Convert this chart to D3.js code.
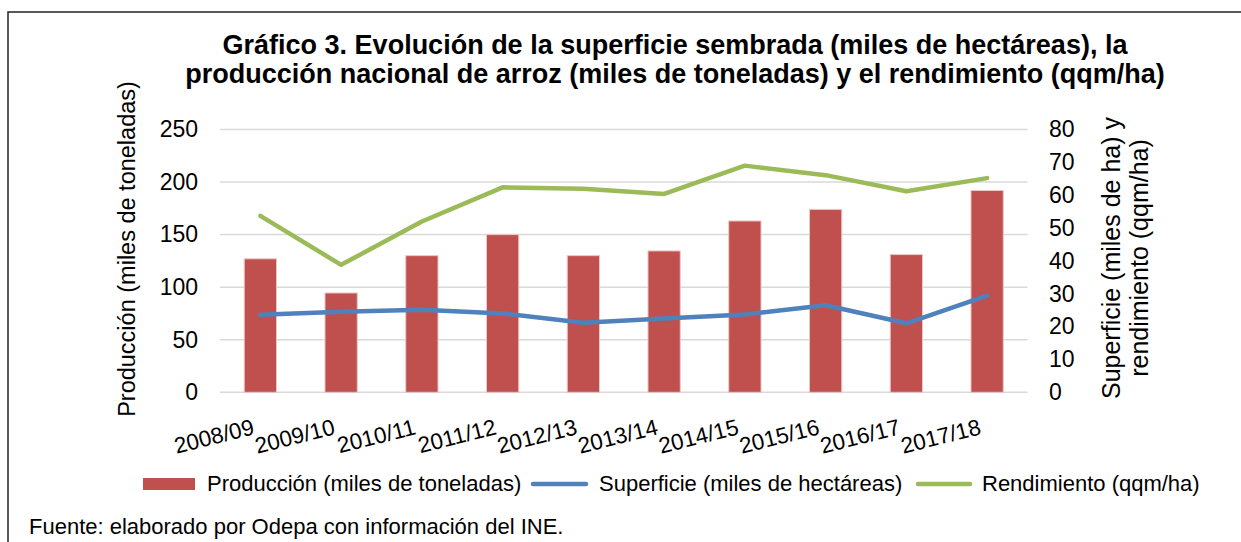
<!DOCTYPE html>
<html>
<head>
<meta charset="utf-8">
<script src="https://cdn.jsdelivr.net/npm/d3@7"></script>
<style>
  body { margin: 0; background: #fff; }
  svg { display: block; font-family: "Liberation Sans", Arial, sans-serif; }
</style>
</head>
<body>
<div id="chart"></div>
<script>
const categories = ["2008/09", "2009/10", "2010/11", "2011/12", "2012/13",
  "2013/14", "2014/15", "2015/16", "2016/17", "2017/18"];
const produccion = [127, 94.5, 130, 150, 130, 134.5, 163, 174, 131, 192];
const superficie = [23.6, 24.5, 25.1, 24.0, 21.2, 22.5, 23.7, 26.5, 21.0, 29.4];
const rendimiento = [53.7, 38.8, 52.0, 62.4, 62.0, 60.4, 69.0, 66.1, 61.2, 65.2];
const leftTicks = [0, 50, 100, 150, 200, 250];
const rightTicks = [0, 10, 20, 30, 40, 50, 60, 70, 80];

const titleLines = [
  "Gráfico 3. Evolución de la superficie sembrada (miles de hectáreas), la",
  "producción nacional de arroz (miles de toneladas) y el rendimiento (qqm/ha)",
];
const leftTitle = "Producción (miles de toneladas)";
const rightTitle = ["Superficie (miles de ha) y", "rendimiento (qqm/ha)"];
const legendNames = ["Producción (miles de toneladas)", "Superficie (miles de hectáreas)", "Rendimiento (qqm/ha)"];
const footer = "Fuente: elaborado por Odepa con información del INE.";

const colors = { bar: "#C0504D", sup: "#4F81BD", ren: "#9BBB59", grid: "#d9d9d9" };

const W = 1241, H = 542;
const plot = { left: 220, right: 1027.5, top: 129.5, bottom: 392.3 };
const font = "Liberation Sans, Arial, sans-serif";

const svg = d3.select("#chart").append("svg")
  .attr("width", W).attr("height", H)
  .attr("viewBox", `0 0 ${W} ${H}`);

// outer frame (runs past the right and bottom edges)
svg.append("rect")
  .attr("x", 8).attr("y", 12)
  .attr("width", W + 20).attr("height", H + 20)
  .attr("fill", "none").attr("stroke", "#222").attr("stroke-width", 1.5);

// title
svg.append("text")
  .attr("text-anchor", "middle")
  .attr("font-weight", "bold")
  .attr("font-size", 27)
  .selectAll("tspan").data(titleLines).join("tspan")
  .attr("x", 675)
  .attr("y", (d, i) => 54 + i * 29)
  .text((d) => d);

const x = d3.scaleBand()
  .domain(categories)
  .range([plot.left, plot.right])
  .paddingInner(0.6)
  .paddingOuter(0.3);

const yLeft = d3.scaleLinear().domain([0, 250]).range([plot.bottom, plot.top]);
const yRight = d3.scaleLinear().domain([0, 80]).range([plot.bottom, plot.top]);

// gridlines
svg.append("g")
  .selectAll("line").data(leftTicks).join("line")
  .attr("x1", plot.left).attr("x2", plot.right)
  .attr("y1", (d) => yLeft(d)).attr("y2", (d) => yLeft(d))
  .attr("stroke", colors.grid).attr("stroke-width", 1.5);

// left axis
const axisLeft = svg.append("g")
  .attr("transform", `translate(198, 0)`)
  .call(d3.axisLeft(yLeft).tickValues(leftTicks).tickSize(0).tickPadding(0));
axisLeft.select(".domain").remove();
axisLeft.selectAll("text").attr("font-size", 23).attr("fill", "#000")
  .attr("font-family", font);

// right axis
const axisRight = svg.append("g")
  .attr("transform", `translate(1049, 0)`)
  .call(d3.axisRight(yRight).tickValues(rightTicks).tickSize(0).tickPadding(0));
axisRight.select(".domain").remove();
axisRight.selectAll("text").attr("font-size", 23).attr("fill", "#000")
  .attr("font-family", font);

// bottom labels, slightly rotated
const axisBottom = svg.append("g")
  .attr("transform", `translate(0, 434)`)
  .call(d3.axisBottom(x).tickSize(0).tickPadding(0));
axisBottom.select(".domain").remove();
axisBottom.selectAll("text")
  .attr("font-size", 22.5).attr("fill", "#000")
  .attr("font-family", font)
  .attr("text-anchor", "end")
  .attr("dy", 0).attr("y", 0)
  .attr("transform", "translate(-5, 0) rotate(-14)");

// axis titles
svg.append("text")
  .attr("transform", "translate(135, 249) rotate(-90)")
  .attr("text-anchor", "middle")
  .attr("font-size", 23.5)
  .text(leftTitle);

svg.append("g")
  .selectAll("text").data(rightTitle).join("text")
  .attr("transform", (d, i) => `translate(${1120 + i * 28}, 258) rotate(-90)`)
  .attr("text-anchor", "middle")
  .attr("font-size", 25)
  .text((d) => d);

// bars
svg.append("g")
  .selectAll("rect").data(produccion).join("rect")
  .attr("x", (d, i) => x(categories[i]))
  .attr("width", x.bandwidth())
  .attr("y", (d) => yLeft(d))
  .attr("height", (d) => yLeft(0) - yLeft(d))
  .attr("fill", colors.bar)
  .attr("stroke", "#ecc8c7").attr("stroke-width", 1);

// lines
const line = d3.line()
  .x((d, i) => x(categories[i]) + x.bandwidth() / 2)
  .y((d) => yRight(d));

svg.append("path")
  .attr("d", line(superficie))
  .attr("fill", "none").attr("stroke", colors.sup)
  .attr("stroke-width", 4.5).attr("stroke-linecap", "round").attr("stroke-linejoin", "round");

svg.append("path")
  .attr("d", line(rendimiento))
  .attr("fill", "none").attr("stroke", colors.ren)
  .attr("stroke-width", 4.5).attr("stroke-linecap", "round").attr("stroke-linejoin", "round");

// legend
const legend = svg.append("g").attr("font-size", 22);
legend.append("rect")
  .attr("x", 143).attr("y", 478).attr("width", 52).attr("height", 12)
  .attr("fill", colors.bar);
legend.append("text").attr("x", 207).attr("y", 491).text(legendNames[0]);

legend.append("line")
  .attr("x1", 533).attr("x2", 586).attr("y1", 484).attr("y2", 484)
  .attr("stroke", colors.sup).attr("stroke-width", 4.5).attr("stroke-linecap", "round");
legend.append("text").attr("x", 599).attr("y", 491).text(legendNames[1]);

legend.append("line")
  .attr("x1", 918).attr("x2", 970).attr("y1", 484).attr("y2", 484)
  .attr("stroke", colors.ren).attr("stroke-width", 4.5).attr("stroke-linecap", "round");
legend.append("text").attr("x", 982).attr("y", 491).text(legendNames[2]);

// source note
svg.append("text")
  .attr("x", 29).attr("y", 534)
  .attr("font-size", 22)
  .text(footer);
</script>
</body>
</html>
